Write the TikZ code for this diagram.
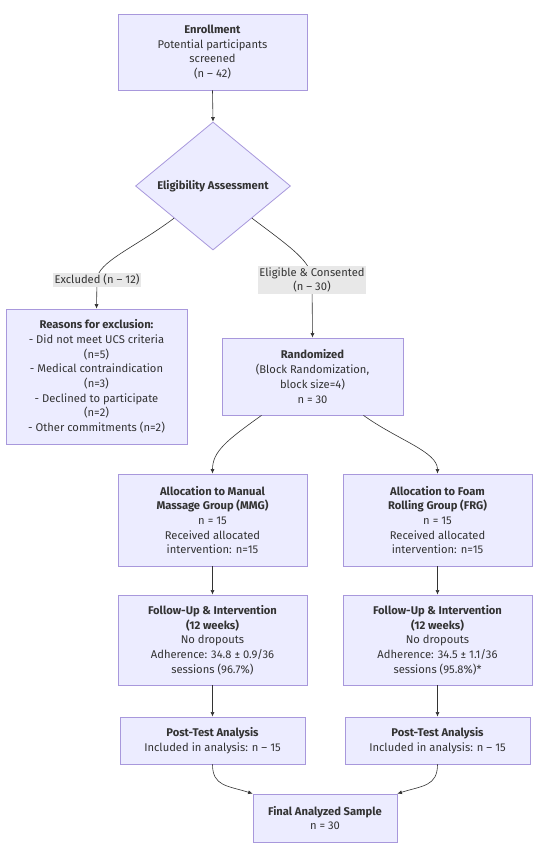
\documentclass[tikz,border=0pt]{standalone}
\usepackage{fontspec}
\setmainfont{Fira Sans}
\usetikzlibrary{shapes.geometric,arrows.meta,calc}
\definecolor{boxfill}{HTML}{ECECFF}
\definecolor{boxline}{HTML}{A898DC}
\definecolor{txt}{HTML}{333333}
\definecolor{lblbg}{HTML}{E8E8E8}
\begin{document}
\begin{tikzpicture}[x=1pt,y=-1pt,
  every node/.style={text=txt,font=\fontsize{11.2}{14.7}\selectfont},
  box/.style={draw=boxline,fill=boxfill,line width=0.8pt,align=center,inner sep=2pt,minimum width=#1},
  box/.default=189pt,
  lbl/.style={fill=lblbg,align=center,inner sep=1.5pt},
  conn/.style={draw=txt,line width=0.6pt,-{Latex[length=4.5pt,width=4pt]}},
  plain/.style={draw=txt,line width=0.6pt}
]
\useasboundingbox (0,0) rectangle (544,849);
\fill[white] (0,0) rectangle (544,849);

\node[box,minimum height=76pt] (enroll) at (212.5,52)
  {\textbf{Enrollment}\\Potential participants\\screened\\(n – 42)};
\node[draw=boxline,fill=boxfill,line width=0.8pt,diamond,minimum width=155pt,minimum height=128pt,inner sep=0pt] (elig) at (213,186)
  {\textbf{Eligibility Assessment}};

\node[box=181pt,minimum height=135pt] (reasons) at (96.5,376.5)
  {\textbf{Reasons for exclusion:}\\- Did not meet UCS criteria\\(n=5)\\- Medical contraindication\\(n=3)\\- Declined to participate\\(n=2)\\- Other commitments (n=2)};
\node[box=181pt,minimum height=77pt] (rand) at (312.5,376.5)
  {\textbf{Randomized}\\(Block Randomization,\\block size=4)\\n = 30};

\node[box,minimum height=92pt] (mmg) at (212.5,520)
  {\textbf{Allocation to Manual}\\\textbf{Massage Group (MMG)}\\n = 15\\Received allocated\\intervention: n=15};
\node[box,minimum height=92pt] (frg) at (437.5,520)
  {\textbf{Allocation to Foam}\\\textbf{Rolling Group (FRG)}\\n = 15\\Received allocated\\intervention: n=15};

\node[box,minimum height=90pt] (fu1) at (212.5,640)
  {\textbf{Follow-Up \& Intervention}\\\textbf{(12 weeks)}\\No dropouts\\Adherence: 34.8 ± 0.9/36\\sessions (96.7\%)};
\node[box,minimum height=90pt] (fu2) at (437.5,640)
  {\textbf{Follow-Up \& Intervention}\\\textbf{(12 weeks)}\\No dropouts\\Adherence: 34.5 ± 1.1/36\\sessions (95.8\%)*};

\node[box=185pt,minimum height=47pt] (pt1) at (212.5,740.5)
  {\textbf{Post-Test Analysis}\\Included in analysis: n – 15};
\node[box=185pt,minimum height=47pt] (pt2) at (437.5,740.5)
  {\textbf{Post-Test Analysis}\\Included in analysis: n – 15};

\node[box=144pt,minimum height=48pt] (final) at (325,818)
  {\textbf{Final Analyzed Sample}\\n = 30};

% connectors
\draw[conn] (enroll.south) -- (elig.north);

\coordinate (dl) at ($(elig.west)!0.5!(elig.south)$);
\coordinate (dr) at ($(elig.east)!0.5!(elig.south)$);
\coordinate (exl) at (97,280);
\coordinate (ell) at (312,280);
\draw[plain] (dl) .. controls +(-40,30) and +(0,-18) .. (exl);
\draw[conn] (exl) -- (reasons.north);
\draw[plain] (dr) .. controls +(40,30) and +(0,-18) .. (ell);
\draw[conn] (ell) -- (rand.north);
\node[lbl] (exlab) at (exl) {Excluded (n – 12)};
\node[lbl] (ellab) at (ell) {Eligible \& Consented\\(n – 30)};

\coordinate (r1) at ($(rand.south)+(-51,0)$);
\coordinate (r2) at ($(rand.south)+(51,0)$);
\draw[conn] (r1) .. controls +(-35,25) and +(0,-22) .. (mmg.north);
\draw[conn] (r2) .. controls +(35,25) and +(0,-22) .. (frg.north);

\draw[conn] (mmg.south) -- (fu1.north);
\draw[conn] (frg.south) -- (fu2.north);
\draw[conn] (fu1.south) -- (pt1.north);
\draw[conn] (fu2.south) -- (pt2.north);

\draw[conn] (pt1.south) .. controls +(0,22) and +(-25,-8) .. (final.north west);
\draw[conn] (pt2.south) .. controls +(0,22) and +(25,-8) .. (final.north east);
\end{tikzpicture}
\end{document}
